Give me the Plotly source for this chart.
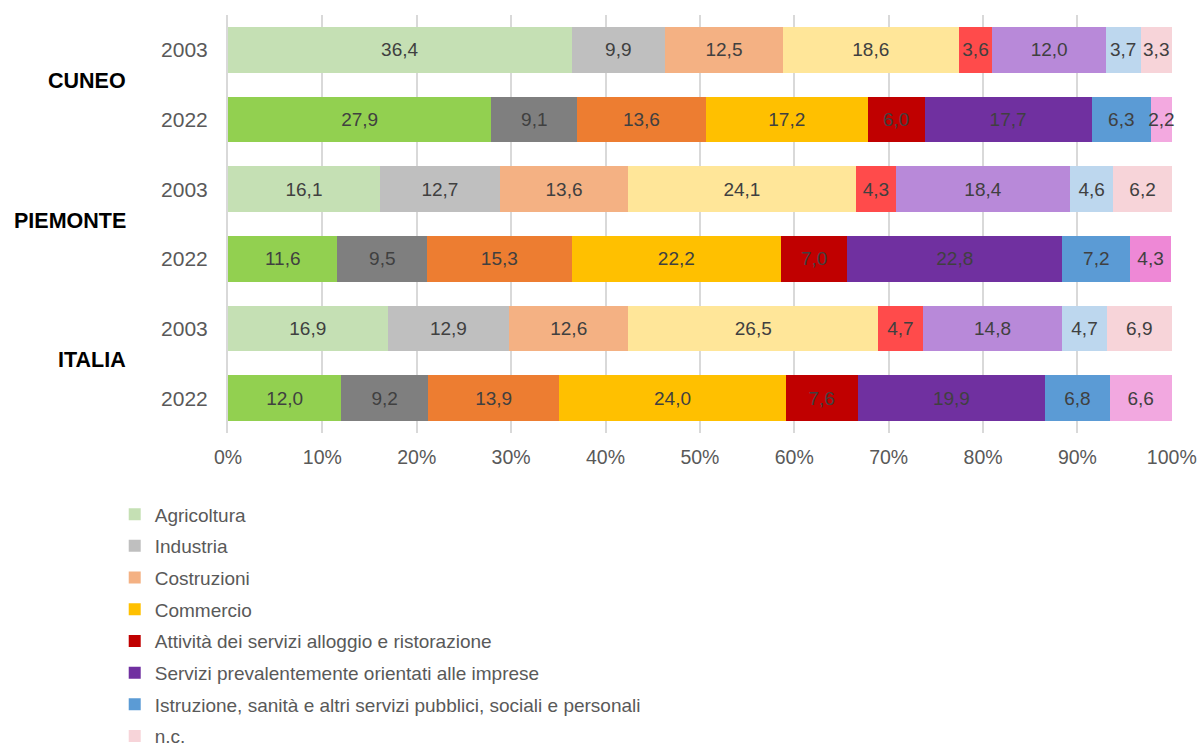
import plotly.graph_objects as go

regions = ["CUNEO", "PIEMONTE", "ITALIA"]
years = ["2003", "2022"]
sectors = [
    "Agricoltura",
    "Industria",
    "Costruzioni",
    "Commercio",
    "Attività dei servizi alloggio e ristorazione",
    "Servizi prevalentemente orientati alle imprese",
    "Istruzione, sanità e altri servizi pubblici, sociali e personali",
    "n.c.",
]

# values per sector: [CUNEO 2003, CUNEO 2022, PIEMONTE 2003, PIEMONTE 2022, ITALIA 2003, ITALIA 2022]
agricoltura = [36.4, 27.9, 16.1, 11.6, 16.9, 12.0]
industria = [9.9, 9.1, 12.7, 9.5, 12.9, 9.2]
costruzioni = [12.5, 13.6, 13.6, 15.3, 12.6, 13.9]
commercio = [18.6, 17.2, 24.1, 22.2, 26.5, 24.0]
alloggio = [3.6, 6.0, 4.3, 7.0, 4.7, 7.6]
servizi_imprese = [12.0, 17.7, 18.4, 22.8, 14.8, 19.9]
istruzione = [3.7, 6.3, 4.6, 7.2, 4.7, 6.8]
nc = [3.3, 2.2, 6.2, 4.3, 6.9, 6.6]

values = [agricoltura, industria, costruzioni, commercio, alloggio, servizi_imprese, istruzione, nc]

colors_2003 = ["#C5E0B4", "#BFBFBF", "#F4B183", "#FFE699", "#FF4B4B", "#B889D9", "#BDD7EE", "#F7D4D9"]
colors_2022 = ["#92D050", "#7F7F7F", "#ED7D31", "#FFC000", "#C00000", "#7030A0", "#5B9BD5", "#F2A8E0"]
nc_2022_by_region = ["#F3A9E0", "#EE88D6", "#F2A8E0"]
legend_from_2022 = [False, False, False, True, True, True, True, False]

cats = [f"{r} {y}" for r in regions for y in years]
ticklabels = [y for r in regions for y in years]
xticks = [0, 10, 20, 30, 40, 50, 60, 70, 80, 90, 100]

fig = go.Figure()
for si, sector in enumerate(sectors):
    for yi, yr in enumerate(years):
        idx = [ri * 2 + yi for ri in range(len(regions))]
        if yr == "2003":
            cols = [colors_2003[si]] * len(idx)
        else:
            cols = nc_2022_by_region if sector == "n.c." else [colors_2022[si]] * len(idx)
        show = (yr == "2022") == legend_from_2022[si]
        fig.add_trace(go.Bar(
            orientation="h",
            y=[cats[i] for i in idx],
            x=[values[si][i] for i in idx],
            name=sector,
            legendgroup=sector,
            showlegend=show,
            marker=dict(color=cols, line=dict(width=0)),
            texttemplate="%{x:.1f}",
            textposition="inside",
            insidetextanchor="middle",
            textangle=0,
            constraintext="none",
            cliponaxis=False,
            textfont=dict(color="#404040", size=19, family="Arial"),
            hoverinfo="x+name",
        ))

for ri, r in enumerate(regions):
    fig.add_annotation(
        x=-0.106, xref="paper", xanchor="right",
        y=ri * 2 + 0.45, yref="y", yanchor="middle",
        text=f"<b>{r}</b>", showarrow=False,
        font=dict(family="Arial", size=21.5, color="#000000"),
    )

fig.update_layout(
    width=1199, height=754,
    barmode="stack",
    bargap=0.34,
    separators=",.",
    plot_bgcolor="white",
    paper_bgcolor="white",
    margin=dict(l=228, r=27, t=15, b=321, pad=0, autoexpand=False),
    font=dict(family="Arial", color="#595959"),
    showlegend=True,
    legend=dict(
        orientation="v",
        traceorder="grouped",
        tracegroupgap=4,
        x=-0.12, xanchor="left",
        y=-0.149, yanchor="top",
        font=dict(size=19, color="#595959", family="Arial"),
        itemwidth=30,
        bgcolor="rgba(0,0,0,0)",
    ),
    xaxis=dict(
        range=[0, 100.02],
        tickvals=xticks,
        ticktext=[f"{t}%" for t in xticks],
        showgrid=True, gridcolor="#D9D9D9", gridwidth=2,
        zeroline=False,
        tickfont=dict(size=19.5, color="#595959"),
        ticklabelstandoff=10,
        automargin=False,
        fixedrange=True,
    ),
    yaxis=dict(
        categoryorder="array", categoryarray=cats,
        tickvals=cats, ticktext=ticklabels,
        autorange="reversed",
        showline=True, linecolor="#D9D9D9", linewidth=2,
        tickfont=dict(size=21, color="#595959"),
        ticklabelstandoff=14,
        showgrid=False,
        automargin=False,
        fixedrange=True,
    ),
)

fig.write_html(
    "out.html",
    config={"displayModeBar": False},
    post_script="document.body.style.margin='0';document.body.style.overflow='hidden';",
)
